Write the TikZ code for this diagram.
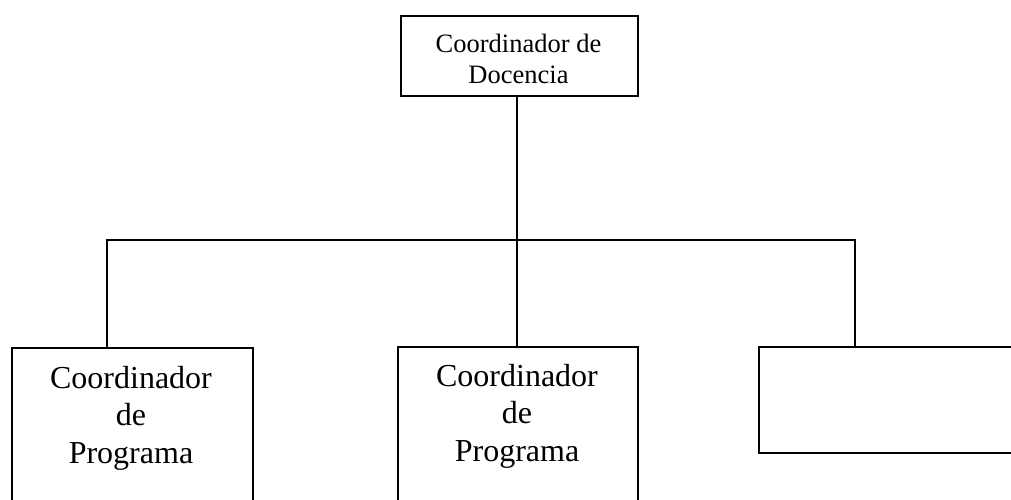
\documentclass[tikz,border=0pt]{standalone}
\usepackage{fontspec}
\setmainfont{Liberation Serif}
\begin{document}
\begin{tikzpicture}[x=1pt,y=-1pt,
  box/.style={draw=black, line width=1.6pt, inner sep=0pt, anchor=north west},
  link/.style={draw=black, line width=1.6pt},
  bigtxt/.style={align=center, inner sep=0pt, anchor=base, font=\fontsize{32}{37.5}\selectfont},
  smalltxt/.style={align=center, inner sep=0pt, anchor=base, font=\fontsize{26.5}{31}\selectfont}]
\useasboundingbox (0,0) rectangle (1011,499);
% boxes
\node[box, minimum width=237pt, minimum height=80pt] (top) at (400,15) {};
\node[box, minimum width=241pt, minimum height=190pt] (b1) at (11,347) {};
\node[box, minimum width=240pt, minimum height=190pt] (b2) at (397,346) {};
\node[box, minimum width=280pt, minimum height=106pt] (b3) at (758,346) {};
% texts (base anchor = baseline of last line)
\node[smalltxt] (ttop) at (518.5,83) {Coordinador de\\Docencia};
\node[bigtxt] (t1) at (131,463) {Coordinador\\de\\Programa};
\node[bigtxt] (t2) at (517,461) {Coordinador\\de\\Programa};
% connectors
\coordinate (jm) at (517,240);
\coordinate (jl) at (107,240);
\coordinate (jr) at (855,240);
\draw[link] (top.south -| jm) -- (jm);
\draw[link] (jl |- b1.north) -- (jl) -- (jr) -- (jr |- b3.north);
\draw[link] (jm) -- (jm |- b2.north);
\end{tikzpicture}
\end{document}
